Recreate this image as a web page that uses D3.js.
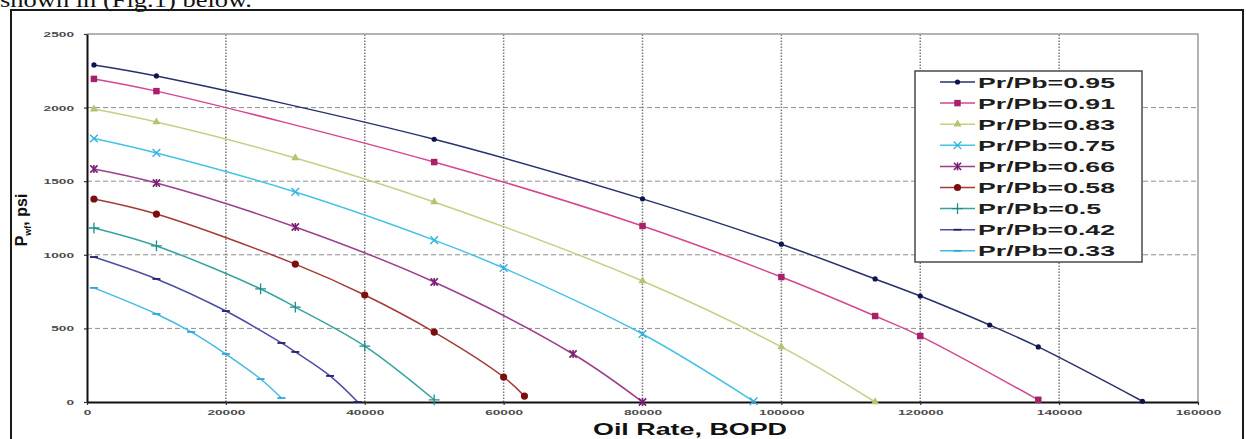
<!DOCTYPE html>
<html>
<head>
<meta charset="utf-8">
<script src="https://cdn.jsdelivr.net/npm/d3@7"></script>
<style>
  body { margin: 0; background: #fff; }
  svg { display: block; }
</style>
</head>
<body>
<svg id="chart" width="1246" height="439"></svg>
<script>
// tick labels
var xTicks = [0, 20000, 40000, 60000, 80000, 100000, 120000, 140000, 160000];
var yTicks = [0, 500, 1000, 1500, 2000, 2500];

// one pair of arrays per curve (oil rate, flowing pressure)
var rate95 = [1000, 10000, 50000, 80000, 100000, 113500, 120000, 130000, 137000, 152000];
var pwf95  = [2290, 2215, 1785, 1380, 1072, 836, 720, 523, 374, 5];
var rate91 = [1000, 10000, 50000, 80000, 100000, 113500, 120000, 137000];
var pwf91  = [2195, 2112, 1630, 1196, 849, 584, 448, 15];
var rate83 = [1000, 10000, 30000, 50000, 80000, 100000, 113500];
var pwf83  = [1990, 1902, 1658, 1359, 822, 374, 0];
var rate75 = [1000, 10000, 30000, 50000, 60000, 80000, 96000];
var pwf75  = [1790, 1692, 1427, 1100, 910, 462, 5];
var rate66 = [1000, 10000, 30000, 50000, 70000, 80000];
var pwf66  = [1583, 1488, 1189, 815, 326, 0];
var rate58 = [1000, 10000, 30000, 40000, 50000, 60000, 63000];
var pwf58  = [1379, 1277, 937, 727, 475, 170, 40];
var rate50 = [1000, 10000, 25000, 30000, 40000, 50000];
var pwf50  = [1182, 1060, 768, 645, 380, 15];
var rate42 = [1000, 10000, 20000, 28000, 30000, 35000, 39000];
var pwf42  = [985, 836, 618, 401, 340, 177, 0];
var rate33 = [1000, 10000, 15000, 20000, 25000, 28000];
var pwf33  = [775, 598, 476, 326, 156, 27];

var seriesNames = ["Pr/Pb=0.95", "Pr/Pb=0.91", "Pr/Pb=0.83", "Pr/Pb=0.75", "Pr/Pb=0.66",
                   "Pr/Pb=0.58", "Pr/Pb=0.5", "Pr/Pb=0.42", "Pr/Pb=0.33"];
var seriesRates = [rate95, rate91, rate83, rate75, rate66, rate58, rate50, rate42, rate33];
var seriesPwf   = [pwf95, pwf91, pwf83, pwf75, pwf66, pwf58, pwf50, pwf42, pwf33];

// look of each curve
var lineColors   = ["#27306e", "#d4468f", "#c9cd86", "#45c2e6", "#9c3e8c", "#a33a36", "#35a3a0", "#4d4da3", "#45b9e3"];
var markerColors = ["#0c1550", "#a8206c", "#b9c071", "#2fb3dd", "#7a1f72", "#7c0d0d", "#1f8d8a", "#1f2170", "#2aa8d8"];
var markerTypes  = ["circle", "square", "triangle", "times", "star", "bigcircle", "plus", "dash", "dash"];

var svg = d3.select("#chart");
var xs = d3.scaleLinear().domain([0, 160000]).range([87, 1198]);
var ys = d3.scaleLinear().domain([0, 2500]).range([402, 34]);

svg.append("rect").attr("width", 1246).attr("height", 439).attr("fill", "#fff");

// clipped sentence from the document above the figure
svg.append("text")
    .attr("x", 0).attr("y", 7)
    .attr("font-family", "Liberation Serif, serif")
    .attr("font-size", 22)
    .attr("fill", "#111")
    .attr("textLength", 252)
    .attr("lengthAdjust", "spacingAndGlyphs")
    .text("shown in (Fig.1) below.");

// outer frame of the figure
svg.append("rect")
    .attr("x", 11).attr("y", 10)
    .attr("width", 1232).attr("height", 440)
    .attr("fill", "none").attr("stroke", "#1a1a1a").attr("stroke-width", 2);

// grid
svg.append("g").selectAll("line")
    .data(yTicks.filter(function(d) { return d > 0 && d < 2500; }))
    .join("line")
    .attr("x1", xs(0)).attr("x2", xs(160000))
    .attr("y1", function(d) { return ys(d); }).attr("y2", function(d) { return ys(d); })
    .attr("stroke", "#8e8e8e").attr("stroke-width", 1)
    .attr("stroke-dasharray", "5,3");

svg.append("g").selectAll("line")
    .data(xTicks.filter(function(d) { return d > 0 && d < 160000; }))
    .join("line")
    .attr("x1", function(d) { return xs(d); }).attr("x2", function(d) { return xs(d); })
    .attr("y1", ys(0)).attr("y2", ys(2500))
    .attr("stroke", "#7a7a7a").attr("stroke-width", 1.5)
    .attr("stroke-dasharray", "1.5,1.5");

// plot area border (top / right)
svg.append("path")
    .attr("d", "M" + xs(0) + "," + ys(2500) + "H" + xs(160000) + "V" + ys(0))
    .attr("fill", "none").attr("stroke", "#9a9a9a").attr("stroke-width", 1.5);

// axes
function styleAxis(g) {
    g.select(".domain").attr("stroke", "#111").attr("stroke-width", 2);
    g.selectAll(".tick line").attr("stroke", "#333").attr("stroke-width", 1.2);
    g.selectAll(".tick text")
        .attr("font-family", "Arial, Liberation Sans, sans-serif")
        .attr("font-size", 8)
        .attr("font-weight", "bold")
        .attr("fill", "#4a4a4a")
        .attr("textLength", function(d) { return String(d).length * 7.6; })
        .attr("lengthAdjust", "spacingAndGlyphs");
}

svg.append("g")
    .attr("transform", "translate(0," + ys(0) + ")")
    .call(d3.axisBottom(xs).tickValues(xTicks).tickSize(3).tickSizeOuter(0).tickPadding(4)
        .tickFormat(function(d) { return String(d); }))
    .call(styleAxis);

svg.append("g")
    .attr("transform", "translate(" + xs(0) + ",0)")
    .call(d3.axisLeft(ys).tickValues(yTicks).tickSize(3).tickSizeOuter(0).tickPadding(10)
        .tickFormat(function(d) { return String(d); }))
    .call(styleAxis);

// axis titles
svg.append("text")
    .attr("x", 690).attr("y", 435)
    .attr("text-anchor", "middle")
    .attr("font-family", "Arial, Liberation Sans, sans-serif")
    .attr("font-size", 16).attr("font-weight", "bold").attr("fill", "#111")
    .attr("textLength", 194).attr("lengthAdjust", "spacingAndGlyphs")
    .text("Oil Rate, BOPD");

var yTitle = svg.append("text")
    .attr("transform", "translate(27,220) rotate(-90)")
    .attr("text-anchor", "middle")
    .attr("font-family", "Arial, Liberation Sans, sans-serif")
    .attr("font-size", 16).attr("font-weight", "bold").attr("fill", "#111");
yTitle.append("tspan").text("P");
yTitle.append("tspan").attr("font-size", 9).attr("dy", 4).text("wf");
yTitle.append("tspan").attr("dy", -4).text(", psi");

// marker drawing
function drawMarker(g, type, color) {
    if (type === "circle") {
        g.append("circle").attr("r", 2.6).attr("fill", color);
    } else if (type === "bigcircle") {
        g.append("circle").attr("r", 3.6).attr("fill", color);
    } else if (type === "square") {
        g.append("path").attr("d", d3.symbol(d3.symbolSquare, 42)).attr("fill", color);
    } else if (type === "triangle") {
        g.append("path").attr("d", d3.symbol(d3.symbolTriangle, 28)).attr("fill", color);
    } else if (type === "times") {
        g.append("path").attr("d", d3.symbol(d3.symbolTimes, 40))
            .attr("fill", "none").attr("stroke", color).attr("stroke-width", 1.4);
    } else if (type === "star") {
        g.append("path").attr("d", d3.symbol(d3.symbolTimes, 36))
            .attr("fill", "none").attr("stroke", color).attr("stroke-width", 1.6);
        g.append("path").attr("d", "M0,-4V4")
            .attr("stroke", color).attr("stroke-width", 1.6);
    } else if (type === "plus") {
        g.append("path").attr("d", d3.symbol(d3.symbolPlus, 40))
            .attr("fill", "none").attr("stroke", color).attr("stroke-width", 1.3);
    } else if (type === "dash") {
        g.append("path").attr("d", "M-4,0H4")
            .attr("stroke", color).attr("stroke-width", 1.8);
    }
}

var line = d3.line()
    .x(function(d) { return xs(d[0]); })
    .y(function(d) { return ys(d[1]); })
    .curve(d3.curveCatmullRom.alpha(0.5));

seriesNames.forEach(function(name, i) {
    var pts = d3.zip(seriesRates[i], seriesPwf[i]);
    var g = svg.append("g");
    g.append("path")
        .attr("d", line(pts))
        .attr("fill", "none")
        .attr("stroke", lineColors[i])
        .attr("stroke-width", 1.5);
    pts.forEach(function(p) {
        var m = g.append("g").attr("transform", "translate(" + xs(p[0]) + "," + ys(p[1]) + ")");
        drawMarker(m, markerTypes[i], markerColors[i]);
    });
});

// legend
var legend = svg.append("g");
legend.append("rect")
    .attr("x", 915).attr("y", 71).attr("width", 227).attr("height", 191)
    .attr("fill", "#fff").attr("stroke", "#4a4a4a").attr("stroke-width", 1.5);

seriesNames.forEach(function(name, i) {
    var y = 82 + i * 21.1;
    legend.append("line")
        .attr("x1", 940).attr("x2", 975).attr("y1", y).attr("y2", y)
        .attr("stroke", lineColors[i]).attr("stroke-width", 1.5);
    var m = legend.append("g").attr("transform", "translate(957.5," + y + ")");
    drawMarker(m, markerTypes[i], markerColors[i]);
    legend.append("text")
        .attr("x", 978).attr("y", y + 5.5)
        .attr("font-family", "Arial, Liberation Sans, sans-serif")
        .attr("font-size", 15).attr("font-weight", "bold").attr("fill", "#1e1e1e")
        .attr("textLength", name.length * 13.7)
        .attr("lengthAdjust", "spacingAndGlyphs")
        .text(name);
});
</script>
</body>
</html>
